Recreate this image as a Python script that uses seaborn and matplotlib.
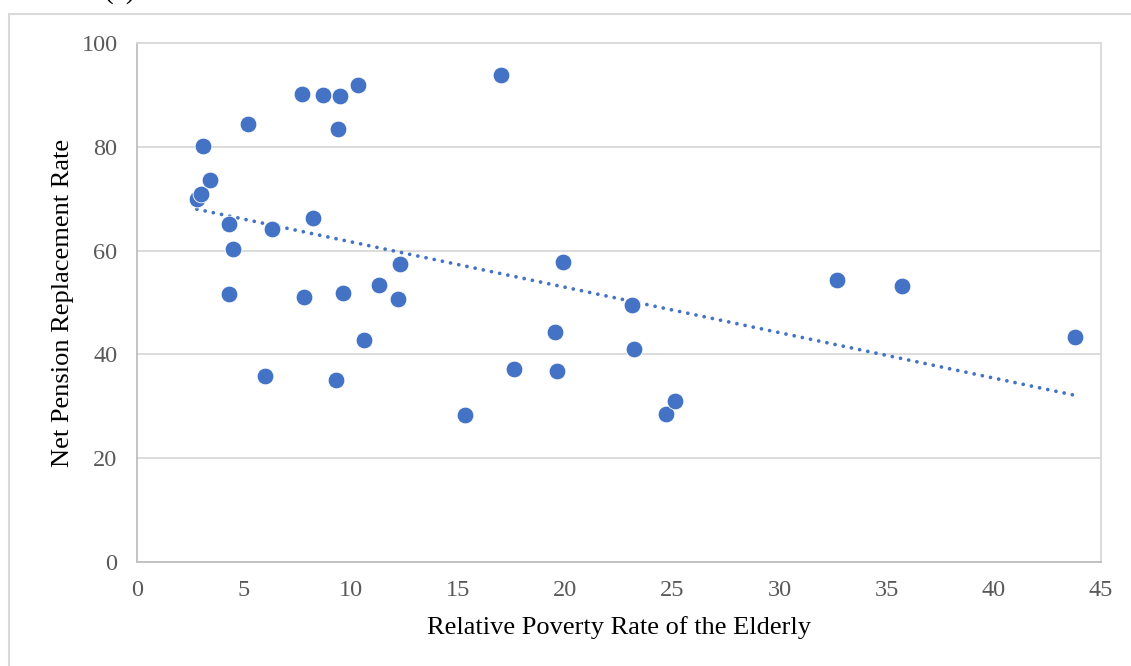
import numpy as np
import pandas as pd
import matplotlib
matplotlib.use('Agg')
import matplotlib.pyplot as plt
import seaborn as sns
from matplotlib.lines import Line2D

# relative poverty rate of the elderly (%) vs net pension replacement rate (%)
poverty_rate = [2.8, 3.0, 3.1, 3.4, 4.3, 4.5, 4.3, 5.2, 6.0, 6.3,
                7.7, 7.8, 8.2, 8.7, 9.5, 9.4, 9.3, 9.6, 10.3, 10.6,
                11.3, 12.2, 12.3, 15.3, 17.0, 17.6, 19.5, 19.6, 19.9, 23.1,
                23.2, 24.7, 25.1, 32.7, 35.7, 43.8]
replacement_rate = [69.9, 70.9, 80.2, 73.6, 65.1, 60.3, 51.6, 84.4, 35.8, 64.2,
                    90.2, 51.1, 66.3, 90.0, 89.8, 83.4, 35.1, 51.8, 91.9, 42.8,
                    53.4, 50.7, 57.4, 28.3, 93.8, 37.2, 44.3, 36.8, 57.8, 49.5,
                    41.0, 28.5, 31.0, 54.3, 53.2, 43.4]

df = pd.DataFrame({'poverty': poverty_rate, 'replacement': replacement_rate})

sns.set_theme(style='white')
plt.rcParams['font.family'] = ['Liberation Serif', 'DejaVu Serif']

blue = '#4472C4'
fig = plt.figure(figsize=(11.31, 6.66), dpi=100)
ax = fig.add_axes([0.1211, 0.1562, 0.8523, 0.7793])

# dotted linear trendline
sns.regplot(data=df, x='poverty', y='replacement', scatter=False, ci=None, ax=ax,
            line_kws={'color': blue, 'linewidth': 2.7, 'linestyle': (0, (0.01, 2.22)),
                      'dash_capstyle': 'round'})
sns.scatterplot(data=df, x='poverty', y='replacement', ax=ax, color=blue, s=145,
                edgecolor='white', linewidth=0.6, zorder=3)

ax.set_xlim(0, 45)
ax.set_ylim(0, 100)
ax.set_xticks(range(0, 46, 5))
ax.set_yticks(range(0, 101, 20))
ax.yaxis.grid(True, color='#D9D9D9', linewidth=1.3)
ax.set_axisbelow(True)
ax.tick_params(axis='both', length=0, labelsize=17.5, colors='#595959')
ax.tick_params(axis='y', pad=14)
ax.tick_params(axis='x', pad=13)
for side in ['top', 'right']:
    ax.spines[side].set_color('#D9D9D9')
    ax.spines[side].set_linewidth(1.3)
for side in ['left', 'bottom']:
    ax.spines[side].set_color('#BFBFBF')
    ax.spines[side].set_linewidth(1.3)

ax.set_xlabel('Relative Poverty Rate of the Elderly', fontsize=19, color='black', labelpad=11)
ax.set_ylabel('Net Pension Replacement Rate', fontsize=19, color='black', labelpad=5)

# outer chart frame (partly cut off)
fig.add_artist(Line2D([8.5 / 1131, 1.0], [1 - 13.5 / 666, 1 - 13.5 / 666],
                      transform=fig.transFigure, color='#D9D9D9', linewidth=1.5))
fig.add_artist(Line2D([8.5 / 1131, 8.5 / 1131], [0, 1 - 13.5 / 666],
                      transform=fig.transFigure, color='#D9D9D9', linewidth=1.5))
fig.text(120 / 1131, 1 - 4 / 666, '(a)', fontsize=21, ha='center', va='bottom', color='black')

fig.savefig('out.png', dpi=100)
